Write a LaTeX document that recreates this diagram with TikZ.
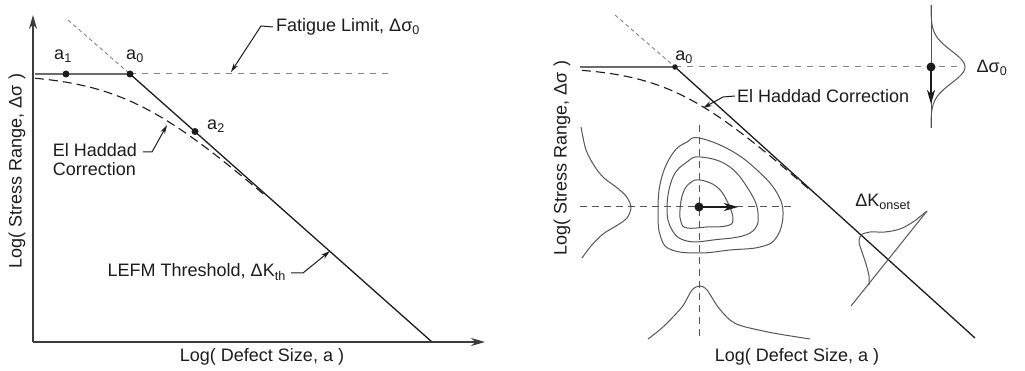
\documentclass[tikz,border=0pt]{standalone}
\usepackage{fontspec}
\setsansfont{Liberation Sans}
\usetikzlibrary{arrows.meta}
\definecolor{plotaxis}{HTML}{3C3C3C}
\definecolor{plotline}{HTML}{1C1C1C}
\definecolor{plotcurve}{HTML}{555555}
\definecolor{plotquiet}{HTML}{858585}
\newcommand{\lblsize}{\fontsize{18}{19}\selectfont}

\begin{document}
\begin{tikzpicture}[x=1pt, y=-1pt, font=\sffamily\lblsize, >=Stealth,
  ax/.style={plotaxis, line width=1.9pt, -{Stealth[length=14pt, width=8pt]}},
  thr/.style={plotline, line width=1.3pt},
  limit/.style={plotquiet, line width=1pt, dash pattern=on 6pt off 6pt},
  ext/.style={plotquiet, line width=0.9pt, dash pattern=on 4pt off 3pt},
  haddad/.style={plotline, line width=1.1pt, dash pattern=on 9pt off 5pt},
  cross/.style={plotcurve, line width=1pt, dash pattern=on 7pt off 5pt},
  dist/.style={plotcurve, line width=1pt},
  lead/.style={plotline, line width=1pt, -{Stealth[length=9pt, width=5pt]}},
  vec/.style={plotline, line width=1.3pt, -{Stealth[length=14pt, width=8pt, inset=4pt]}},
  dot/.style={circle, fill=plotline, inner sep=0pt, minimum size=#1},
  dot/.default=7pt,
  lbl/.style={inner sep=0pt, text=plotline}]
  \useasboundingbox (0,0) rectangle (1025,371);
  % ---- left panel: Kitagawa diagram ----
  \begin{scope}
    \coordinate (oL) at (33,342); \coordinate (yL) at (33,15); \coordinate (xL) at (485,342);
    \coordinate (a0L) at (130,74); \coordinate (a1L) at (66,74); \coordinate (a2L) at (195,131.5);
    \draw[ext] (68,20) -- (a0L);
    \draw[limit] (a0L) -- (393,74);
    \draw[haddad] plot[domain=35:265, samples=70] (\x, {74+39*ln(1+exp((\x-130)/44))});
    \draw[thr] (35,74) -- (a0L) -- (432,342);
    \draw[ax] (oL) -- (yL);
    \draw[ax] (oL) -- (xL);
    \foreach \p in {a0L, a1L, a2L} { \node[dot] at (\p) {}; }
    \node[lbl] (t1) at (63,56) {a\textsubscript{1}};
    \node[lbl] (t0) at (135,56) {a\textsubscript{0}};
    \node[lbl] (t2) at (216,126) {a\textsubscript{2}};
    % labels with leaders
    \node[lbl, anchor=west] (fatL) at (276,27) {Fatigue Limit, Δσ\textsubscript{0}};
    \coordinate (fatK) at (261,26); \coordinate (fatT) at (231,72);
    \draw[lead] ([xshift=-3pt]fatL.west) -- (fatK) -- (fatT);
    \node[lbl, align=left] (ehL) at (95,160) {El Haddad\\Correction};
    \coordinate (ehS) at (143,152); \coordinate (ehK) at (152,152); \coordinate (ehT) at (167,125);
    \draw[lead] (ehS) -- (ehK) -- (ehT);
    \node[lbl, anchor=east] (lefm) at (286,272) {LEFM Threshold, ΔK\textsubscript{th}};
    \coordinate (lefmS) at (291,273); \coordinate (lefmK) at (303,273); \coordinate (lefmT) at (330,251);
    \draw[lead] (lefmS) -- (lefmK) -- (lefmT);
    \node[lbl, rotate=90] (yttlL) at (17,171) {Log( Stress Range, Δσ )};
    \node[lbl] (xttlL) at (262,357) {Log( Defect Size, a )};
  \end{scope}
  % ---- right panel: scatter of the inputs ----
  \begin{scope}
    \coordinate (oR) at (580,339); \coordinate (yR) at (580,7); \coordinate (xR) at (1022,339);
    \coordinate (a0R) at (675,67); \coordinate (sR) at (931,67); \coordinate (cR) at (699,207);
    \draw[ext] (615,15) -- (a0R);
    \draw[limit] (a0R) -- (963,67);
    \draw[haddad] plot[domain=582:810, samples=70] (\x, {67+36.1*ln(1+exp((\x-675)/40))});
    \draw[thr] (580,67) -- (a0R) -- (975,338);
    % fatigue limit scatter
    \draw[dist] (931,5) -- (931,128);
    \draw[dist] plot[domain=5:128, samples=60] ({931+34*exp(-((\x-67)*(\x-67))/512)}, \x);
    \draw[vec] (sR) -- (931,104);
    % joint density of defect size and stress
    \draw[cross] (699,125) -- (699,339);
    \draw[cross] (580,207) -- (793,207);
    \draw[dist] plot[smooth cycle, tension=0.7] coordinates {(699,138) (730,150) (757,170) (777,193) (783,215) (776,238) (760,247) (730,250) (700,253) (672,250) (661,238) (658,213) (661,180) (673,153) (687,142)};
    \draw[dist] plot[smooth cycle, tension=0.7] coordinates {(700,157) (727,165) (747,187) (758,213) (750,233) (713,240) (687,241) (672,230) (667,207) (673,177) (687,162)};
    \draw[dist] plot[smooth cycle, tension=0.7] coordinates {(700,180) (717,187) (728,203) (733,220) (726,226) (707,227) (687,228) (681,222) (680,210) (683,193) (690,183)};
    \draw[dist] plot[smooth] coordinates {(581,127) (586,150) (595,167) (604,178) (616,187) (626,196) (631,207) (627,218) (616,226) (603,234) (591,246) (582,258)};
    \draw[dist] plot[smooth] coordinates {(648,339) (663,327) (682,307) (692,290) (700,286) (707,290) (718,307) (730,320) (742,326) (773,333) (810,339)};
    \draw[vec] (cR) -- (738,207);
    % threshold scatter
    \draw[dist] (851,306) -- (927,211);
    \draw[dist] plot[smooth] coordinates {(927,211) (913,222) (900,229) (885,232) (870,232) (861,235) (859,242) (862,252) (866,264) (869,276) (869,285)};
    \node[dot=5.5pt] at (a0R) {};
    \node[dot=9pt] at (sR) {};
    \node[dot=9pt] at (cR) {};
    \node[lbl] (t0R) at (684,57) {a\textsubscript{0}};
    \node[lbl] (sig0) at (992,68) {Δσ\textsubscript{0}};
    \node[lbl] (konset) at (883,202) {ΔK\textsubscript{onset}};
    \node[lbl, anchor=west] (ehR) at (737,96) {El Haddad Correction};
    \coordinate (ehRK) at (723,97); \coordinate (ehRT) at (703,108);
    \draw[lead] ([xshift=-2pt]ehR.west) -- (ehRK) -- (ehRT);
    \node[lbl, rotate=90] (yttlR) at (562,158) {Log( Stress Range, Δσ )};
    \node[lbl] (xttlR) at (797,357) {Log( Defect Size, a )};
  \end{scope}
\end{tikzpicture}
\end{document}
